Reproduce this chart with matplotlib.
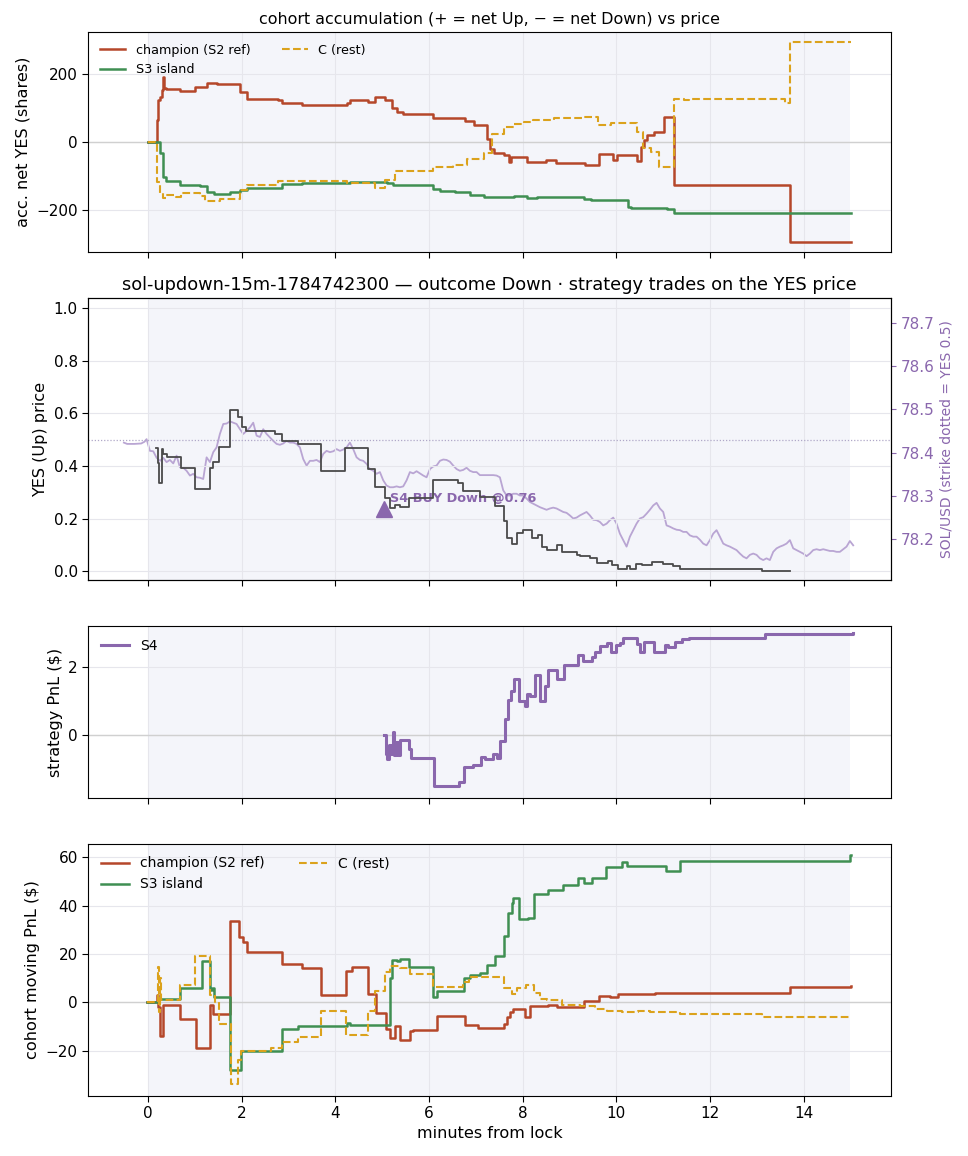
import numpy as np
import matplotlib
matplotlib.use("Agg")
import matplotlib.pyplot as plt

# ---------------- data ----------------
# Panel 1: accumulated net YES shares (step series)
champ_acc_t = [0.0, 0.18, 0.21, 0.25, 0.29, 0.31, 0.33, 0.39, 0.68, 1.00, 1.25, 1.46, 1.96, 2.10, 2.78, 2.85,
               3.28, 4.24, 4.31, 4.70, 4.84, 5.06, 5.20, 5.31, 5.45, 6.09, 6.77, 6.95, 7.17, 7.24, 7.31,
               7.39, 7.60, 7.71, 7.74, 7.78, 8.10, 8.49, 8.71, 9.32, 9.63, 9.92, 10.02, 10.45, 10.52, 10.59,
               10.66, 10.81, 11.02, 11.23, 13.71, 15.02]
champ_acc_v = [0, 65, 124, 133, 153, 192, 160, 155, 151, 161, 174, 172, 148, 128, 123, 114,
               109, 116, 123, 119, 133, 123, 99, 87, 81, 70, 63, 50, 50, 10, -20,
               -33, -38, -60, -45, -44, -58, -53, -61, -68, -36, -54, -39, -56, -14, 6,
               21, 29, 75, -126, -295, -295]
s3_acc_t = [0.0, 0.25, 0.32, 0.39, 0.68, 1.10, 1.25, 1.40, 1.75, 1.96, 2.10, 2.85, 3.28, 4.31, 5.10, 5.23,
            6.09, 6.23, 6.56, 6.88, 7.17, 7.81, 8.10, 8.31, 9.31, 9.45, 10.24, 10.31, 11.09, 11.23, 15.02]
s3_acc_v = [0, -33, -102, -114, -128, -131, -146, -153, -146, -141, -136, -125, -120, -117, -122, -127,
            -139, -143, -146, -156, -162, -159, -166, -161, -169, -171, -190, -195, -198, -208, -208]
c_acc_t = [0.0, 0.18, 0.25, 0.32, 0.39, 0.60, 0.71, 1.10, 1.21, 1.53, 1.96, 2.10, 2.78, 4.24, 4.84, 5.06,
           5.27, 6.09, 6.52, 6.80, 7.17, 7.35, 7.60, 7.81, 8.03, 8.21, 8.67, 9.31, 9.60, 9.88,
           10.45, 10.56, 10.74, 10.92, 11.23, 11.45, 11.56, 13.60, 13.71, 15.02]
c_acc_v = [0, -117, -151, -166, -156, -161, -149, -160, -175, -169, -141, -128, -115, -120, -136, -112,
           -84, -73, -68, -51, -33, 25, 45, 53, 60, 65, 70, 74, 50, 55,
           30, -19, -28, -73, 128, 124, 126, 114, 295, 295]

# Panel 2: YES (Up) price (step) and SOL/USD
yes_t = [0.165, 0.20, 0.236, 0.286, 0.321, 0.392, 0.692, 0.998, 1.318, 1.390, 1.511, 1.746, 1.924, 1.996,
         2.08, 2.71, 2.85, 3.21, 3.70, 4.20, 4.70, 4.84, 5.06, 5.16, 5.27, 5.38, 5.56, 6.09, 6.62, 6.73,
         7.09, 7.41, 7.59, 7.66, 7.77, 7.87, 8.01, 8.19, 8.33, 8.41, 8.51, 8.73, 8.83, 9.15, 9.22, 9.44,
         9.58, 9.83, 9.90, 10.04, 10.22, 10.29, 10.43, 10.54, 10.76, 11.00, 11.22, 11.36, 13.11, 13.71]
yes_p = [0.47, 0.41, 0.337, 0.465, 0.446, 0.433, 0.391, 0.314, 0.392, 0.414, 0.472, 0.613, 0.587, 0.549,
         0.533, 0.52, 0.495, 0.485, 0.382, 0.469, 0.388, 0.32, 0.28, 0.241, 0.251, 0.244, 0.28, 0.346, 0.337, 0.305,
         0.282, 0.247, 0.19, 0.128, 0.103, 0.145, 0.158, 0.126, 0.138, 0.094, 0.081, 0.10, 0.072, 0.062, 0.059, 0.049,
         0.032, 0.04, 0.023, 0.01, 0.02, 0.01, 0.026, 0.023, 0.036, 0.026, 0.02, 0.01, 0.001, 0.001]

sol_pre_t = [-0.52, -0.45, -0.30, -0.15, -0.08]
sol_pre_v = [78.423, 78.420, 78.420, 78.421, 78.425]
sol_t0, sol_dt = -0.035, 0.0712   # regular sampling of the SOL feed (minutes)
sol_v = [78.431, 78.404, 78.403, 78.388, 78.381, 78.388, 78.378, 78.383, 78.375, 78.393,
         78.366, 78.365, 78.358, 78.347, 78.351, 78.343, 78.342, 78.339, 78.389, 78.378,
         78.401, 78.412, 78.443, 78.466, 78.467, 78.472, 78.469, 78.466, 78.454, 78.443,
         78.450, 78.458, 78.469, 78.439, 78.436, 78.454, 78.443, 78.435, 78.427, 78.420,
         78.418, 78.421, 78.427, 78.423, 78.423, 78.420, 78.412, 78.385, 78.370, 78.381,
         78.381, 78.383, 78.378, 78.397, 78.404, 78.401, 78.403, 78.408, 78.404, 78.407,
         78.412, 78.423, 78.408, 78.389, 78.383, 78.381, 78.374, 78.362, 78.358, 78.351,
         78.355, 78.336, 78.324, 78.320, 78.320, 78.322, 78.320, 78.322, 78.336, 78.355,
         78.352, 78.357, 78.352, 78.347, 78.343, 78.362, 78.368, 78.370, 78.381, 78.384,
         78.383, 78.379, 78.370, 78.362, 78.358, 78.360, 78.365, 78.358, 78.355, 78.355,
         78.348, 78.348, 78.348, 78.348, 78.348, 78.347, 78.343, 78.313, 78.301, 78.301,
         78.305, 78.305, 78.301, 78.301, 78.294, 78.286, 78.282, 78.278, 78.274, 78.271,
         78.268, 78.271, 78.273, 78.271, 78.267, 78.263, 78.261, 78.255, 78.248, 78.250,
         78.255, 78.259, 78.263, 78.255, 78.245, 78.244, 78.240, 78.232, 78.236, 78.244,
         78.250, 78.236, 78.213, 78.198, 78.183, 78.206, 78.221, 78.236, 78.248, 78.251,
         78.259, 78.268, 78.278, 78.284, 78.271, 78.263, 78.232, 78.229, 78.225, 78.222,
         78.221, 78.217, 78.217, 78.209, 78.206, 78.206, 78.199, 78.190, 78.186, 78.198,
         78.213, 78.221, 78.206, 78.190, 78.186, 78.183, 78.179, 78.175, 78.167, 78.160,
         78.156, 78.164, 78.167, 78.164, 78.156, 78.152, 78.156, 78.152, 78.171, 78.179,
         78.183, 78.186, 78.190, 78.198, 78.179, 78.175, 78.171, 78.167, 78.161, 78.167,
         78.175, 78.177, 78.175, 78.177, 78.175, 78.173, 78.173, 78.171, 78.171, 78.177,
         78.183, 78.196, 78.186]
strike_yes = 0.5
trade_t, trade_p, trade_label = 5.04, 0.235, "S4 BUY Down @0.76"

# Panel 3: S4 strategy PnL (step)
s4_t = [5.04, 5.07, 5.10, 5.15, 5.19, 5.23, 5.26, 5.30, 5.34, 5.37, 5.56, 5.62, 6.11, 6.63, 6.74, 6.93,
        7.11, 7.19, 7.37, 7.44, 7.52, 7.63, 7.69, 7.74, 7.81, 7.92, 8.04, 8.10, 8.15, 8.26, 8.37, 8.48,
        8.55, 8.74, 8.89, 9.18, 9.29, 9.48, 9.55, 9.66, 9.81, 9.88, 9.99, 10.07, 10.14, 10.44, 10.51,
        10.59, 10.81, 11.03, 11.10, 11.25, 11.40, 11.55, 13.17, 15.06]
s4_pnl = [0.0, -0.55, -0.70, -0.30, -0.55, 0.10, -0.60, -0.20, -0.60, -0.15, -0.40, -0.68, -1.50, -1.40, -0.95, -0.88,
          -0.65, -0.72, -0.55, -0.68, -0.17, 0.47, 1.04, 1.30, 1.64, 1.01, 0.85, 1.20, 1.15, 1.78, 1.00, 1.45,
          1.92, 1.65, 2.08, 2.37, 2.18, 2.30, 2.44, 2.62, 2.72, 2.45, 2.65, 2.72, 2.87, 2.70, 2.45,
          2.75, 2.45, 2.67, 2.60, 2.75, 2.85, 2.88, 2.97, 3.00]

# Panel 4: cohort moving PnL (step)
champ_pnl_t = [-0.02, 0.18, 0.21, 0.25, 0.32, 0.68, 1.02, 1.33, 1.39, 1.75, 1.94, 2.02, 2.10, 2.85, 3.28,
               3.70, 4.22, 4.35, 4.70, 4.87, 5.08, 5.16, 5.27, 5.38, 5.59, 5.65, 6.16, 6.77, 7.05, 7.59,
               7.66, 7.73, 7.80, 8.05, 8.16, 8.55, 8.73, 9.30, 9.62, 9.87, 10.04, 10.83, 11.22, 13.71, 15.01]
champ_pnl_v = [0, 3, -2, -14, -1, -7, -19, -1, -5, 33.5, 27, 25, 21, 16, 14,
               3, 13, 14.5, 3.5, -4.5, -11, -15, -10, -15.5, -12, -11.5, -5.5, -9.5, -10.5, -9,
               -6, -4, -3, -6, -1.5, -1, -2, 0.5, 2.5, 2.3, 3.5, 4, 3.8, 6.5, 6.8]
s3_pnl_t = [-0.02, 0.21, 0.68, 1.14, 1.32, 1.37, 1.40, 1.75, 1.99, 2.85, 3.21, 4.24, 4.31, 5.16, 5.20,
            5.31, 5.38, 5.56, 6.09, 6.16, 6.75, 6.88, 7.09, 7.23, 7.41, 7.60, 7.69, 7.76, 7.80, 7.91,
            8.12, 8.24, 8.55, 8.85, 9.17, 9.30, 9.47, 9.77, 10.11, 10.22, 11.06, 11.36, 14.99, 15.01]
s3_pnl_v = [0, 1.5, 6, 17, 5, 6, 2.3, -28, -20, -11, -10, -8.5, -9.5, 10, 17.5,
            17, 18, 14.5, 2, 4.5, 10, 11.3, 12, 15.5, 19, 27.5, 37, 41, 43, 34.5,
            35, 45, 46.5, 48.5, 51.5, 49.5, 51.5, 56, 58, 56.5, 54.5, 58.5, 61, 61]
c_pnl_t = [-0.02, 0.21, 0.23, 0.25, 0.28, 0.68, 1.00, 1.33, 1.43, 1.51, 1.76, 1.92, 1.99, 2.63, 2.85,
           3.21, 3.70, 4.22, 4.70, 4.84, 5.06, 5.16, 5.38, 5.59, 6.08, 6.72, 6.86, 7.09, 7.59, 7.77,
           7.87, 8.08, 8.23, 8.37, 8.51, 8.83, 9.22, 9.54, 9.79, 10.11, 10.47, 10.72, 11.36, 13.11, 14.99]
c_pnl_v = [0, 14.5, -4, 10, 1, 7, 19, 3, 0, -9, -34, -24, -20, -19, -16.5,
           -14.5, -3.5, -13.5, -3.5, 4.5, 12.5, 15, 14, 11.5, 6.5, 8.5, 10.5, 10.5, 6, 3.5,
           6, 7, 4, 1.5, 1, -1, -1.5, -3, -3.5, -4, -3.5, -4, -5, -6, -6]

x_ticks = [0, 2, 4, 6, 8, 10, 12, 14]
lock_start, lock_end = 0, 15

# ---------------- style ----------------
C_CHAMP = "#b5472a"
C_S3 = "#3f8f52"
C_C = "#dba21c"
C_S4 = "#8a67ad"
C_YES = "#4a4a4a"
C_SOL = "#b9a5d3"
SHADE = "#f4f5fa"
GRID = "#e6e6ec"

plt.rcParams.update({"font.family": ["DejaVu Sans"], "font.size": 10.5,
                     "xtick.labelsize": 11, "ytick.labelsize": 11, "axes.labelsize": 11.6})

W, H = 968, 1156
fig = plt.figure(figsize=(W / 100, H / 100), dpi=100)

def ax_at(top, bottom):
    l, r = 88.3, 890.7
    return fig.add_axes([l / W, 1 - bottom / H, (r - l) / W, (bottom - top) / H])

ax1 = ax_at(32.3, 251.7)
ax2 = ax_at(298.3, 580.0)
ax3 = ax_at(626.0, 798.3)
ax4 = ax_at(844.0, 1095.5)
axes = [ax1, ax2, ax3, ax4]

for ax in axes:
    if ax is not ax2:
        ax.axvspan(lock_start, lock_end, color=SHADE, zorder=0, lw=0)
    ax.grid(True, color=GRID, lw=0.8, zorder=0)
    ax.set_axisbelow(True)
    ax.set_xlim(-1.28, 15.86)
    ax.set_xticks(x_ticks)
    ax.tick_params(direction="out", length=4)
for ax in axes[:-1]:
    ax.tick_params(labelbottom=False)

# Panel 1
ax1.axhline(0, color="#d0d0d0", lw=1, zorder=1)
ax1.plot(champ_acc_t, champ_acc_v, drawstyle="steps-post", color=C_CHAMP, lw=1.8, label="champion (S2 ref)")
ax1.plot(s3_acc_t, s3_acc_v, drawstyle="steps-post", color=C_S3, lw=1.8, label="S3 island")
ax1.plot(c_acc_t, c_acc_v, drawstyle="steps-post", color=C_C, lw=1.5, ls="--", label="C (rest)")
ax1.set_ylim(-323, 323)
ax1.set_yticks([-200, 0, 200])
ax1.set_ylabel("acc. net YES (shares)")
ax1.set_title("cohort accumulation (+ = net Up, \u2212 = net Down) vs price", fontsize=11.4)
ax1.legend(ncol=2, loc="upper left", frameon=False, fontsize=9.2, handlelength=2.0, columnspacing=2.5)

# Panel 2
ax2b = ax2.twinx()
ax2b.axvspan(lock_start, lock_end, color=SHADE, zorder=0, lw=0)
sol_t = list(np.round(sol_t0 + sol_dt * np.arange(len(sol_v)), 3))
ax2b.plot(sol_pre_t + sol_t, sol_pre_v + sol_v, color=C_SOL, lw=1.3, zorder=2)
ax2b.set_ylim(78.106, 78.756)
ax2b.set_yticks([78.2, 78.3, 78.4, 78.5, 78.6, 78.7])
ax2b.tick_params(axis="y", colors=C_S4, labelsize=11)
ax2b.set_ylabel("SOL/USD (strike dotted = YES 0.5)", color=C_S4, fontsize=10)
ax2b.set_xlim(-1.28, 15.86)
ax2.set_zorder(ax2b.get_zorder() + 1)
ax2.patch.set_visible(False)

ax2.axhline(strike_yes, color="#b0a8c8", lw=0.9, ls=(0, (1, 1.5)), zorder=1)
ax2.plot(yes_t, yes_p, drawstyle="steps-post", color=C_YES, lw=1.3, zorder=3)
ax2.set_ylim(-0.033, 1.037)
ax2.set_yticks([0.0, 0.2, 0.4, 0.6, 0.8, 1.0])
ax2.set_ylabel("YES (Up) price")
ax2.set_title("sol-updown-15m-1784742300 \u2014 outcome Down \u00b7 strategy trades on the YES price", fontsize=12.8)
ax2.plot([trade_t], [trade_p], marker="^", ms=11, color=C_S4, ls="none", zorder=5)
ax2.annotate(trade_label, (trade_t, trade_p), xytext=(4, 5), textcoords="offset points",
             color=C_S4, fontsize=9.3, fontweight="bold", zorder=1.5)

# Panel 3
ax3.axhline(0, color="#d0d0d0", lw=1, zorder=1)
ax3.plot(s4_t, s4_pnl, drawstyle="steps-post", color=C_S4, lw=2.2, label="S4")
ax3.set_ylim(-1.87, 3.22)
ax3.set_yticks([0, 2])
ax3.set_ylabel("strategy PnL ($)")
ax3.legend(loc="upper left", frameon=False, fontsize=10)

# Panel 4
ax4.axhline(0, color="#d0d0d0", lw=1, zorder=1)
ax4.plot(champ_pnl_t, champ_pnl_v, drawstyle="steps-post", color=C_CHAMP, lw=1.8, label="champion (S2 ref)")
ax4.plot(s3_pnl_t, s3_pnl_v, drawstyle="steps-post", color=C_S3, lw=1.8, label="S3 island")
ax4.plot(c_pnl_t, c_pnl_v, drawstyle="steps-post", color=C_C, lw=1.5, ls="--", label="C (rest)")
ax4.set_ylim(-38.6, 65.5)
ax4.set_yticks([-20, 0, 20, 40, 60])
ax4.set_ylabel("cohort moving PnL ($)")
ax4.set_xlabel("minutes from lock")
ax4.legend(ncol=2, loc="upper left", frameon=False, fontsize=10, handlelength=2.0, columnspacing=2.5)

fig.savefig("out.png", dpi=100)
